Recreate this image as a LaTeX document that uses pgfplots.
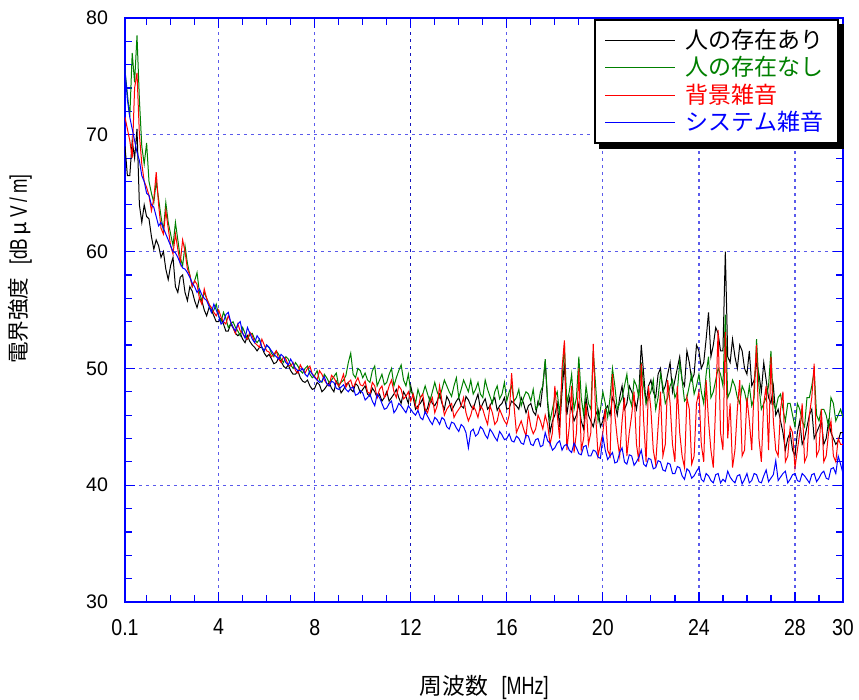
\documentclass[border=0pt]{standalone}
\usepackage{fontspec}
\setmainfont{Liberation Sans}
\newfontfamily\jp{Noto Sans CJK JP}
\newfontfamily\narrow[FakeStretch=0.85]{Liberation Sans}
\newfontfamily\narrowu[FakeStretch=0.72]{Liberation Sans}
\usepackage{pgfplots}
\pgfplotsset{compat=1.18}
\usepackage{pgfplotstable}
\definecolor{dgreen}{RGB}{0,128,0}
\definecolor{gridblue}{RGB}{90,90,235}
\definecolor{gridblue2}{RGB}{20,20,190}
\pgfplotstableread{
x k g r b
0.1 69.0 75.5 71.5 75.5
0.2 66.5 73.5 70.5 73.0
0.3 66.5 71.5 69.5 71.5
0.4 69.5 77.0 68.0 70.5
0.5 68.0 74.5 74.0 69.5
0.6 70.5 78.5 75.3 68.5
0.7 64.0 73.0 70.0 67.8
0.8 62.5 69.0 67.5 66.5
0.9 64.0 67.5 66.0 66.0
1.0 63.0 69.3 65.5 65.0
1.1 62.8 66.0 64.8 64.8
1.2 61.3 65.0 63.5 64.0
1.3 60.2 64.2 64.5 63.8
1.4 61.0 66.0 66.8 63.0
1.5 60.5 64.5 64.0 62.2
1.6 59.5 63.0 62.0 62.5
1.7 60.0 61.8 61.5 62.0
1.8 58.5 64.2 63.5 61.5
1.9 57.6 62.5 62.0 61.0
2.0 58.8 61.5 60.5 60.5
2.1 59.5 60.5 59.8 60.0
2.2 57.0 62.5 61.5 59.9
2.3 56.5 61.0 60.2 59.5
2.4 57.8 59.5 59.0 59.0
2.5 58.0 58.8 61.0 58.6
2.6 56.5 60.5 60.0 58.5
2.7 55.8 59.0 58.5 58.2
2.8 57.0 58.0 58.0 57.8
2.9 56.6 57.0 57.0 57.3
3.0 55.8 57.5 57.5 57.0
3.1 55.2 58.2 57.2 56.5
3.2 56.0 56.5 56.0 56.8
3.3 55.8 55.8 55.5 56.3
3.4 55.0 56.5 56.8 56.0
3.5 54.5 56.0 56.0 55.8
3.6 55.2 55.5 55.5 55.3
3.7 55.0 54.8 55.2 54.8
3.8 54.5 55.0 54.8 55.5
3.9 54.0 55.5 54.5 55.0
4.0 54.0 54.5 55.0 54.5
4.1 54.3 54.0 54.4 53.8
4.2 53.8 54.8 54.0 54.0
4.3 53.2 54.3 53.8 54.6
4.4 53.2 53.5 54.5 54.8
4.5 53.8 53.8 54.0 54.0
4.6 53.5 54.0 53.5 53.5
4.7 53.0 53.5 53.0 53.2
4.8 52.8 53.2 53.8 53.8
4.9 53.0 52.8 53.2 54.0
5.0 52.5 53.5 53.0 53.0
5.1 52.2 53.0 52.7 52.6
5.2 52.8 52.5 52.5 53.5
5.3 52.3 52.9 53.1 53.0
5.4 52.0 53.0 52.8 52.5
5.5 51.8 52.5 52.2 52.2
5.6 51.5 52.2 52.0 52.8
5.7 51.8 52.5 51.8 52.5
5.8 51.8 51.8 52.5 51.8
5.9 51.3 51.5 52.0 51.5
6.0 51.0 52.0 51.5 52.0
6.1 51.2 51.8 51.4 51.8
6.2 50.8 51.3 51.0 51.5
6.3 50.4 51.0 51.2 51.2
6.4 50.5 51.5 51.5 51.0
6.5 50.9 51.2 50.8 50.8
6.6 50.6 50.8 50.5 51.2
6.7 50.2 50.5 51.0 51.0
6.8 50.0 51.0 50.8 50.5
6.9 50.3 50.8 50.3 50.3
7.0 49.8 50.3 50.2 50.8
7.1 49.5 50.0 50.5 50.4
7.2 49.5 50.5 49.8 50.0
7.3 49.8 50.2 49.6 49.8
7.4 49.2 49.8 50.3 49.8
7.5 48.9 49.6 49.9 50.0
7.6 48.8 50.0 49.6 49.5
7.7 49.0 50.2 50.0 49.3
7.8 48.5 49.5 50.2 49.8
7.9 48.2 49.2 49.5 49.5
8.0 48.3 49.4 49.3 49.2
8.1 48.8 49.8 49.0 49.0
8.2 48.6 49.0 49.8 48.8
8.3 48.0 48.8 49.5 48.9
8.4 48.2 49.5 49.0 49.3
8.5 48.5 49.2 48.7 48.7
8.6 48.8 48.8 48.5 48.5
8.7 48.3 49.0 49.4 48.9
8.8 48.0 49.3 49.2 48.8
8.9 48.9 49.6 48.8 48.3
9.0 48.5 48.5 48.5 48.2
9.1 47.9 48.8 48.9 48.4
9.2 48.2 49.0 49.5 48.6
9.3 48.6 49.4 48.4 48.2
9.4 48.8 50.5 48.8 48.0
9.5 48.2 51.3 49.0 48.3
9.6 48.0 49.5 48.3 48.4
9.7 48.7 49.2 48.8 47.7
9.8 48.5 50.0 49.2 47.8
9.9 47.9 49.8 48.6 48.1
10.0 48.2 49.2 48.5 47.9
10.1 48.5 49.6 48.9 47.3
10.2 47.8 49.0 48.0 47.5
10.3 47.6 48.8 47.8 47.8
10.4 48.3 49.8 48.8 47.2
10.5 48.0 50.2 48.5 46.8
10.6 47.5 48.5 47.5 47.8
10.7 47.8 49.0 48.2 47.5
10.8 47.2 49.5 48.5 47.0
10.9 47.5 48.6 47.5 46.5
11.0 48.0 48.8 47.8 46.6
11.1 47.2 49.5 48.5 47.0
11.2 47.5 50.0 49.0 47.2
11.3 47.8 48.5 48.0 46.2
11.4 48.2 49.2 47.5 46.5
11.5 47.5 49.8 48.5 47.0
11.6 47.0 50.3 48.2 46.8
11.7 48.0 49.0 47.4 46.5
11.8 47.6 48.5 47.6 46.2
11.9 47.0 49.5 48.0 46.8
12.0 48.5 48.0 47.2 46.5
12.1 47.5 47.8 47.8 46.2
12.2 46.5 47.0 46.8 46.0
12.3 46.8 48.2 46.5 46.4
12.4 47.0 47.5 47.5 45.8
12.5 47.4 47.8 47.8 45.6
12.6 46.2 48.5 46.5 46.3
12.7 46.6 47.8 46.2 45.9
12.8 47.5 47.2 47.0 45.5
12.9 47.0 48.0 47.5 45.2
13.0 46.8 48.8 46.2 45.8
13.1 47.2 48.0 46.8 45.6
13.2 47.8 47.5 48.5 45.2
13.3 47.0 48.2 47.2 45.8
13.4 46.5 49.0 46.0 45.6
13.5 47.6 48.5 46.5 45.0
13.6 47.2 48.0 46.8 44.8
13.7 46.4 47.6 47.0 45.4
13.8 46.8 48.5 45.8 45.3
13.9 47.2 49.2 46.2 44.9
14.0 47.5 47.5 46.5 44.6
14.1 46.8 48.2 46.8 45.2
14.2 46.6 49.0 47.5 45.0
14.3 47.6 48.5 46.2 44.5
14.4 47.3 48.0 45.5 43.2
14.5 46.8 49.0 46.0 44.6
14.6 46.5 47.8 46.8 44.8
14.7 47.2 48.2 46.4 44.2
14.8 47.8 48.8 45.8 44.4
14.9 46.5 47.8 46.8 45.0
15.0 47.0 47.5 46.5 44.8
15.1 47.4 49.0 45.8 44.3
15.2 46.5 48.2 45.2 44.0
15.3 46.8 47.6 46.8 44.8
15.4 47.2 47.0 46.2 44.5
15.5 47.5 48.0 45.2 44.1
15.6 46.4 48.5 45.5 43.8
15.7 46.8 47.4 46.5 44.6
15.8 47.0 47.8 46.0 44.3
15.9 47.5 48.8 45.5 43.9
16.0 46.5 47.2 45.2 44.0
16.1 46.6 48.0 46.0 44.4
16.2 47.2 48.5 49.6 43.8
16.3 47.0 47.2 46.8 43.7
16.4 46.8 47.5 44.5 44.2
16.5 46.5 48.2 45.0 44.0
16.6 47.5 46.8 45.5 43.6
16.7 47.0 47.5 44.8 43.5
16.8 46.2 48.0 44.2 44.3
16.9 46.8 47.8 46.2 44.2
17.0 47.0 47.2 45.0 43.5
17.1 46.3 48.2 44.4 43.4
17.2 46.0 46.5 44.8 43.9
17.3 47.2 46.8 46.0 44.0
17.4 46.8 48.0 45.5 43.3
17.5 48.5 48.5 44.8 43.4
17.6 50.6 50.8 46.0 44.5
17.7 47.0 47.2 45.2 43.8
17.8 44.5 45.5 43.5 43.6
17.9 45.5 46.5 44.5 43.0
18.0 46.0 47.5 48.5 43.2
18.1 47.0 48.0 46.0 43.6
18.2 45.0 46.0 44.0 43.8
18.3 48.0 49.0 50.0 43.0
18.4 50.5 52.0 52.4 43.4
18.5 46.0 47.0 43.0 43.5
18.6 47.5 48.0 45.0 43.0
18.7 46.5 49.5 48.5 42.8
18.8 45.5 46.5 42.8 43.6
18.9 46.0 47.5 44.5 43.2
19.0 47.0 51.0 50.0 42.7
19.1 45.5 47.5 43.0 42.6
19.2 44.8 46.0 44.0 43.3
19.3 47.5 48.5 47.0 43.4
19.4 46.0 47.0 43.5 42.5
19.5 45.5 46.5 44.5 42.5
19.6 45.0 51.5 52.1 43.0
19.7 46.0 48.5 46.0 42.9
19.8 46.5 45.5 42.5 42.4
19.9 45.0 46.5 43.5 42.3
20.0 45.5 48.0 44.5 44.2
20.1 46.5 47.0 46.5 43.0
20.2 46.8 45.8 43.0 42.2
20.3 46.0 47.5 42.5 42.5
20.4 47.5 50.0 49.5 42.8
20.5 47.0 48.5 46.0 41.9
20.6 46.0 46.5 44.0 42.0
20.7 47.5 47.0 42.5 42.8
20.8 48.5 47.5 45.5 43.2
20.9 46.5 48.5 47.5 42.0
21.0 47.0 49.5 42.5 41.8
21.1 48.5 47.5 44.5 42.6
21.2 48.0 46.8 46.0 42.5
21.3 47.5 49.0 48.0 41.7
21.4 46.5 48.5 43.5 42.0
21.5 48.0 47.5 42.0 42.4
21.6 52.0 50.5 50.4 43.0
21.7 49.5 48.5 45.5 41.8
21.8 47.0 47.0 42.0 41.6
21.9 48.5 47.5 48.5 42.3
22.0 49.0 48.0 46.5 42.2
22.1 48.0 49.0 43.0 41.4
22.2 47.5 46.5 41.8 41.5
22.3 49.5 47.5 45.0 42.1
22.4 50.0 49.5 48.0 42.0
22.5 48.0 48.5 42.5 41.3
22.6 48.5 47.0 43.5 41.2
22.7 49.5 47.5 49.0 41.9
22.8 50.5 48.5 47.0 41.8
22.9 48.0 49.0 43.5 41.0
23.0 49.0 47.5 42.0 41.0
23.1 50.0 48.0 48.5 41.6
23.2 51.0 50.5 44.5 41.5
23.3 49.0 49.0 42.5 40.8
23.4 48.5 47.2 41.5 40.5
23.5 51.5 47.5 47.5 41.4
23.6 50.5 48.5 46.5 41.2
23.7 49.0 49.5 41.8 40.6
23.8 49.5 47.8 42.5 40.8
23.9 52.0 48.5 47.0 41.2
24.0 51.5 49.5 48.0 41.5
24.1 50.0 48.0 43.5 40.5
24.2 50.5 47.0 42.0 40.3
24.3 52.5 49.5 49.0 41.0
24.4 54.8 51.0 45.5 40.8
24.5 51.0 47.5 43.0 40.4
24.6 52.0 48.0 41.5 40.2
24.7 53.5 49.0 47.0 40.9
24.8 53.0 50.0 53.3 41.0
24.9 51.5 49.5 44.5 40.2
25.0 51.5 48.5 43.0 40.5
25.1 60.0 54.6 53.1 40.3
25.2 51.0 47.5 44.0 41.2
25.3 50.5 48.0 47.0 40.7
25.4 52.5 49.0 41.5 40.4
25.5 51.0 48.5 43.0 40.2
25.6 50.0 47.5 46.5 40.8
25.7 52.0 47.0 49.0 40.9
25.8 51.5 48.5 42.5 40.1
25.9 50.0 48.0 43.0 40.5
26.0 49.5 47.0 47.5 41.0
26.1 51.5 48.5 45.5 40.2
26.2 48.5 46.8 43.0 40.4
26.3 49.0 47.5 48.5 41.0
26.4 50.5 52.5 52.0 40.9
26.5 49.5 48.5 44.0 40.3
26.6 48.0 46.5 42.0 40.2
26.7 50.5 47.0 47.0 40.8
26.8 49.0 47.5 48.5 41.3
26.9 47.5 48.5 43.0 40.3
27.0 47.0 51.5 51.0 40.6
27.1 48.5 47.0 45.5 40.9
27.2 46.0 46.5 43.0 42.1
27.3 46.5 47.5 42.5 40.4
27.4 45.5 47.8 46.5 40.7
27.5 44.5 46.5 48.0 41.0
27.6 43.0 45.5 42.0 41.2
27.7 44.0 47.0 42.5 40.2
27.8 44.5 47.0 45.0 40.5
27.9 43.0 46.0 44.5 40.9
28.0 42.5 45.0 41.5 41.0
28.1 44.5 47.0 43.0 40.4
28.2 45.5 46.5 44.5 40.3
28.3 43.5 45.5 47.0 41.0
28.4 44.0 45.0 42.0 40.8
28.5 45.0 47.5 42.5 40.5
28.6 46.0 47.5 46.0 40.2
28.7 46.5 48.5 47.5 40.9
28.8 44.0 49.8 50.4 41.0
28.9 44.5 46.0 42.5 40.3
29.0 45.0 45.5 43.0 40.6
29.1 45.5 46.5 46.5 41.0
29.2 43.5 46.5 42.0 41.2
29.3 44.0 46.0 42.5 40.6
29.4 45.5 45.0 44.5 40.5
29.5 44.5 47.5 45.5 41.4
29.6 44.0 47.0 42.5 41.5
29.7 43.5 45.5 42.0 41.0
29.8 43.8 46.0 44.0 42.5
29.9 44.5 46.5 43.5 41.8
30.0 44.5 45.8 43.5 41.0
}\data
\begin{document}
\begin{tikzpicture}
\begin{axis}[name=ax, scale only axis, width=359pt, height=292pt,
  xmin=0.1, xmax=30, ymin=30, ymax=80,
  xtick={0.1,4,8,16,20,24,28,30}, xticklabels={0.1,4,8,16,20,24,28,30},
  extra x ticks={12}, extra x tick labels={12},
  extra x tick style={major grid style={gridblue2, dash pattern=on 1.5pt off 2pt, line width=0.6pt}},
  minor xtick={1,2,3,5,6,7,9,10,11,13,14,15,17,18,19,21,22,23,25,26,27,29},
  ytick={30,40,50,60,70,80}, yticklabels={30,40,50,60,70,80},
  minor ytick={32,34,36,38,42,44,46,48,52,54,56,58,62,64,66,68,72,74,76,78},
  grid=major, major grid style={gridblue, dash pattern=on 1.5pt off 2pt, line width=0.6pt},
  axis line style={blue, line width=0.8pt},
  every tick/.style={blue, line width=0.6pt},
  major tick length=5pt, minor tick length=3.5pt,
  xticklabel style={font=\narrow\fontsize{11.5}{12}\selectfont, yshift=-5pt},
  yticklabel style={font=\fontsize{9.8}{11}\selectfont, xshift=-5pt},
  xlabel={{\jp 周波数}\hspace{0.6em}{\narrowu\fontsize{12.5}{13}\selectfont [MHz]}},
  ylabel={{\jp 電界強度}\hspace{0.6em}{\narrowu\fontsize{12}{13}\selectfont [dB}\,{\jp μ}\,{\narrowu\fontsize{12}{13}\selectfont V\,/\,m]}},
  xlabel style={at={(axis description cs:0.5,-0.147)}, anchor=center, font=\fontsize{11.4}{13}\selectfont},
  ylabel style={at={(axis description cs:-0.146,0.57)}, anchor=center, font=\fontsize{10.8}{13}\selectfont},
  legend style={name=leg, at={(rel axis cs:0.994,0.998)}, anchor=north east, draw=black, line width=1pt, fill=white,
    font=\jp\fontsize{11.5}{13}\selectfont, inner xsep=5pt, inner ysep=2.5pt, row sep=-1.5pt},
  legend cell align=left,
  legend image code/.code={\draw[#1, line width=0.5pt] (0pt,0pt) -- (35pt,0pt); \path (38pt,0pt);},
]
\addplot[black, line width=0.5pt] table[x=x,y=k]{\data};
\addplot[dgreen, line width=0.5pt] table[x=x,y=g]{\data};
\addplot[red, line width=0.5pt] table[x=x,y=r]{\data};
\addplot[blue, line width=0.5pt] table[x=x,y=b]{\data};
\legend{\textcolor{black}{人の存在あり}, \textcolor{dgreen}{人の存在なし}, \textcolor{red}{背景雑音}, \textcolor{blue}{システム雑音}}
\end{axis}
\fill[black] ([yshift=-2.5pt]leg.north east) rectangle ([xshift=2.5pt,yshift=-2.5pt]leg.south east);
\fill[black] ([xshift=2.5pt,yshift=-2.5pt]leg.south west) rectangle (leg.south east);
\pgfresetboundingbox
\path ([xshift=-62.5pt,yshift=-49pt]ax.south west) rectangle ([xshift=8pt,yshift=9pt]ax.north east);
\end{tikzpicture}
\end{document}
